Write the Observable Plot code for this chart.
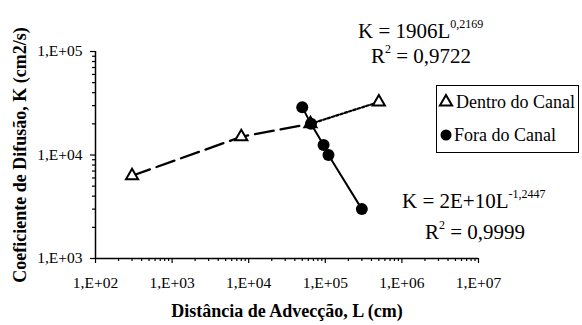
<!DOCTYPE html>
<html><head><meta charset="utf-8">
<script src="https://cdn.jsdelivr.net/npm/d3@7"></script>
<script src="https://cdn.jsdelivr.net/npm/@observablehq/plot@0.6"></script>
<style>body{margin:0;background:#fff}#c{position:relative;width:582px;height:325px}</style>
</head><body><div id="c"></div>
<script>
const dentroL = [300, 8000, 64000, 500000];
const dentroK = [6300, 15000, 20000, 32500];
const foraL = [50000, 65000, 95000, 110000, 300000];
const foraK = [29000, 20000, 12500, 10000, 3000];
const xTicks = [1e2, 1e3, 1e4, 1e5, 1e6, 1e7];
const xTickLabels = ["1,E+02", "1,E+03", "1,E+04", "1,E+05", "1,E+06", "1,E+07"];
const yTicks = [1e3, 1e4, 1e5];
const yTickLabels = ["1,E+03", "1,E+04", "1,E+05"];
const xLabel = "Distância de Advecção, L (cm)";
const yLabel = "Coeficiente de Difusão, K (cm2/s)";
const seriesNames = ["Dentro do Canal", "Fora do Canal"];

const dentro = dentroL.map((L, i) => ({L, K: dentroK[i]}));
const fora = foraL.map((L, i) => ({L, K: foraK[i]}));
const minor = (lo, hi) => { const a = []; for (let e = lo; e < hi; e++) for (let m = 2; m <= 9; m++) a.push(m * 10 ** e); return a; };
const font = "'Liberation Serif', 'Times New Roman', serif";

const chart = Plot.plot({
  width: 582, height: 325,
  marginLeft: 95, marginRight: 104, marginTop: 51, marginBottom: 67,
  x: {type: "log", domain: [1e2, 1e7]},
  y: {type: "log", domain: [1e3, 1e5]},
  style: {fontFamily: font, fontSize: "15px", color: "black", background: "white"},
  marks: [
    Plot.axisX({ticks: minor(2, 7), tickSize: 3, tickFormat: () => "", label: null, strokeWidth: 1.2}),
    Plot.axisX({ticks: xTicks, tickSize: 5, tickPadding: 13, tickFormat: d => xTickLabels[xTicks.indexOf(d)], label: null, fontSize: 15.5, strokeWidth: 1.2}),
    Plot.axisY({ticks: minor(3, 5), tickSize: 3, tickFormat: () => "", label: null, strokeWidth: 1.2}),
    Plot.axisY({ticks: yTicks, tickSize: 5, tickPadding: 8, tickFormat: d => yTickLabels[yTicks.indexOf(d)], label: null, fontSize: 15.5, strokeWidth: 1.2}),
    Plot.ruleX([1e2], {stroke: "black", strokeWidth: 1.5}),
    Plot.ruleY([1e3], {stroke: "black", strokeWidth: 1.5}),
    Plot.text([xLabel], {frameAnchor: "bottom", lineAnchor: "middle", textAnchor: "middle", dy: 53, fontWeight: "bold", fontSize: 18}),
    Plot.text([yLabel], {frameAnchor: "left", lineAnchor: "middle", textAnchor: "middle", dx: -75, rotate: -90, fontWeight: "bold", fontSize: 18}),
    Plot.line(dentro.slice(0, 3), {x: "L", y: "K", stroke: "black", strokeWidth: 2.3, strokeDasharray: "19,7"}),
    Plot.line(dentro.slice(2), {x: "L", y: "K", stroke: "black", strokeWidth: 2.2, strokeDasharray: "2.5,2"}),
    Plot.dot(dentro, {x: "L", y: "K", symbol: "triangle", r: 4.5, fill: "white", stroke: "black", strokeWidth: 2}),
    Plot.line(fora, {x: "L", y: "K", stroke: "black", strokeWidth: 2}),
    Plot.dot(fora, {x: "L", y: "K", r: 6, fill: "black", stroke: "none"})
  ]
});
document.getElementById("c").appendChild(chart);

const svg = d3.select(chart);
function txt(x, y, size) {
  return svg.append("text").attr("x", x).attr("y", y)
    .style("font-family", font).style("font-size", size + "px").style("text-anchor", "start").attr("fill", "black");
}
function eq(x, y, base, sup) {
  const t = txt(x, y, 21);
  t.append("tspan").text(base);
  t.append("tspan").attr("dy", -10).style("font-size", "12px").text(sup);
}
function r2(x, y, val) {
  const t = txt(x, y, 21);
  t.append("tspan").text("R");
  t.append("tspan").attr("dy", -10).style("font-size", "12px").text("2");
  t.append("tspan").attr("dy", 10).text(" = " + val);
}
eq(358, 38, "K = 1906L", "0,2169");
r2(371, 63, "0,9722");
eq(402, 208, "K = 2E+10L", "-1,2447");
r2(425, 239, "0,9999");

// legend
const lg = svg.append("g");
lg.append("rect").attr("x", 436.5).attr("y", 85.5).attr("width", 142).attr("height", 67).attr("fill", "white").attr("stroke", "black");
lg.append("path").attr("transform", "translate(446,102)").attr("d", d3.symbol(d3.symbolTriangle, Math.PI * 4.5 * 4.5)()).attr("fill", "white").attr("stroke", "black").attr("stroke-width", 2);
txt(456, 108, 18).text(seriesNames[0]);
lg.append("circle").attr("cx", 446).attr("cy", 135).attr("r", 5.5).attr("fill", "black");
txt(454, 141, 18).text(seriesNames[1]);
</script></body></html>
